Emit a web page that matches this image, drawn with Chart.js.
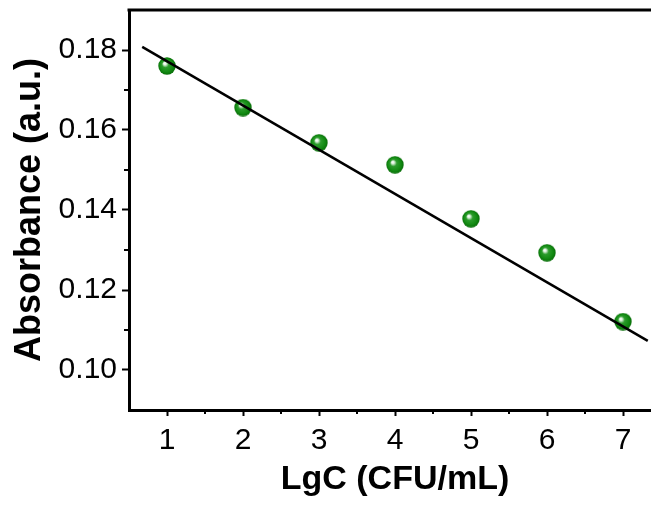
<!DOCTYPE html>
<html>
<head>
<meta charset="utf-8">
<script src="https://cdn.jsdelivr.net/npm/chart.js@4.4.1/dist/chart.umd.min.js"></script>
<style>
  html, body { margin: 0; padding: 0; background: #fff; overflow: hidden; }
  canvas { display: block; }
</style>
</head>
<body>
<canvas id="myChart" width="661" height="505"></canvas>
<script>
// measured points
var lgC = [1, 2, 3, 4, 5, 6, 7];
var absorbance = [0.1760, 0.1656, 0.1568, 0.1513, 0.1378, 0.1293, 0.1121];

// fitted line, ends
var fitX = [0.674, 7.326];
var fitY = [0.1808, 0.1073];

var xTicks = [1, 2, 3, 4, 5, 6, 7];
var xMinor = [1.5, 2.5, 3.5, 4.5, 5.5, 6.5];
var yTicks = [0.10, 0.12, 0.14, 0.16, 0.18];
var yMinor = [0.11, 0.13, 0.15, 0.17];

var fontFamily = "'Liberation Sans', Arial, sans-serif";

// shaded green ball used as point style
function makeBall(r) {
  var c = document.createElement('canvas');
  c.width = r * 2;
  c.height = r * 2;
  var g = c.getContext('2d');
  var grad = g.createRadialGradient(r * 0.72, r * 0.68, 0, r, r, r);
  grad.addColorStop(0, '#ffffff');
  grad.addColorStop(0.15, '#e2f3e2');
  grad.addColorStop(0.38, '#2c9c2c');
  grad.addColorStop(0.75, '#128a12');
  grad.addColorStop(1, '#076a07');
  g.fillStyle = grad;
  g.beginPath();
  g.arc(r, r, r - 0.3, 0, Math.PI * 2);
  g.fill();
  return c;
}
var ball = makeBall(9);

var points = [];
for (var i = 0; i < lgC.length; i++) {
  points.push({x: lgC[i], y: absorbance[i]});
}
var fitLine = [];
for (var j = 0; j < fitX.length; j++) {
  fitLine.push({x: fitX[j], y: fitY[j]});
}

// top frame line and minor ticks
var framePlugin = {
  id: 'frame',
  afterDraw: function (chart) {
    var ctx = chart.ctx;
    var area = chart.chartArea;
    var xs = chart.scales.x;
    var ys = chart.scales.y;
    ctx.save();
    ctx.strokeStyle = '#000';
    ctx.lineWidth = 3;
    ctx.beginPath();
    ctx.moveTo(area.left - 1.5, area.top);
    ctx.lineTo(area.right, area.top);
    ctx.stroke();

    ctx.lineWidth = 2;
    ctx.beginPath();
    yMinor.forEach(function (v) {
      var py = ys.getPixelForValue(v);
      ctx.moveTo(area.left, py);
      ctx.lineTo(area.left - 5, py);
    });
    xMinor.forEach(function (v) {
      var px = xs.getPixelForValue(v);
      ctx.moveTo(px, area.bottom);
      ctx.lineTo(px, area.bottom + 4);
    });
    ctx.stroke();
    ctx.restore();
  }
};

const ctx = document.getElementById('myChart');

new Chart(ctx, {
  type: 'scatter',
  data: {
    datasets: [
      {
        type: 'line',
        data: fitLine,
        borderColor: '#000',
        borderWidth: 2.5,
        pointRadius: 0,
        fill: false,
        order: 0
      },
      {
        data: points,
        pointStyle: ball,
        pointRadius: 9,
        order: 1
      }
    ]
  },
  options: {
    animation: false,
    responsive: false,
    layout: { autoPadding: false, padding: { top: 10, right: 0, left: 0, bottom: 0 } },
    plugins: {
      legend: { display: false },
      tooltip: { enabled: false }
    },
    scales: {
      x: {
        type: 'linear',
        min: 0.5,
        max: 7.5,
        afterFit: function (s) {
          s.height = 95;
          s.paddingLeft = 0;
          s.paddingRight = 0;
        },
        afterBuildTicks: function (s) {
          s.ticks = xTicks.map(function (v) { return {value: v}; });
        },
        border: { color: '#000', width: 3 },
        grid: { drawOnChartArea: false, tickLength: 6, tickColor: '#000', tickWidth: 2 },
        ticks: {
          color: '#000',
          padding: 7,
          font: { family: fontFamily, size: 30 },
          maxRotation: 0
        },
        title: {
          display: true,
          text: 'LgC (CFU/mL)',
          color: '#000',
          font: { family: fontFamily, size: 34, weight: 'bold' },
          padding: { top: 0, bottom: 5 }
        }
      },
      y: {
        type: 'linear',
        min: 0.09,
        max: 0.19,
        afterFit: function (s) {
          s.width = 129;
          s.paddingTop = 0;
          s.paddingBottom = 0;
        },
        afterBuildTicks: function (s) {
          s.ticks = yTicks.map(function (v) { return {value: v}; });
        },
        border: { color: '#000', width: 3 },
        grid: { drawOnChartArea: false, tickLength: 7, tickColor: '#000', tickWidth: 2 },
        ticks: {
          color: '#000',
          padding: 5,
          font: { family: fontFamily, size: 30 },
          callback: function (v) { return v.toFixed(2); }
        },
        title: {
          display: true,
          text: 'Absorbance (a.u.)',
          color: '#000',
          font: { family: fontFamily, size: 36, weight: 'bold' },
          padding: { top: 8, bottom: 0 }
        }
      }
    }
  },
  plugins: [framePlugin]
});
</script>
</body>
</html>
